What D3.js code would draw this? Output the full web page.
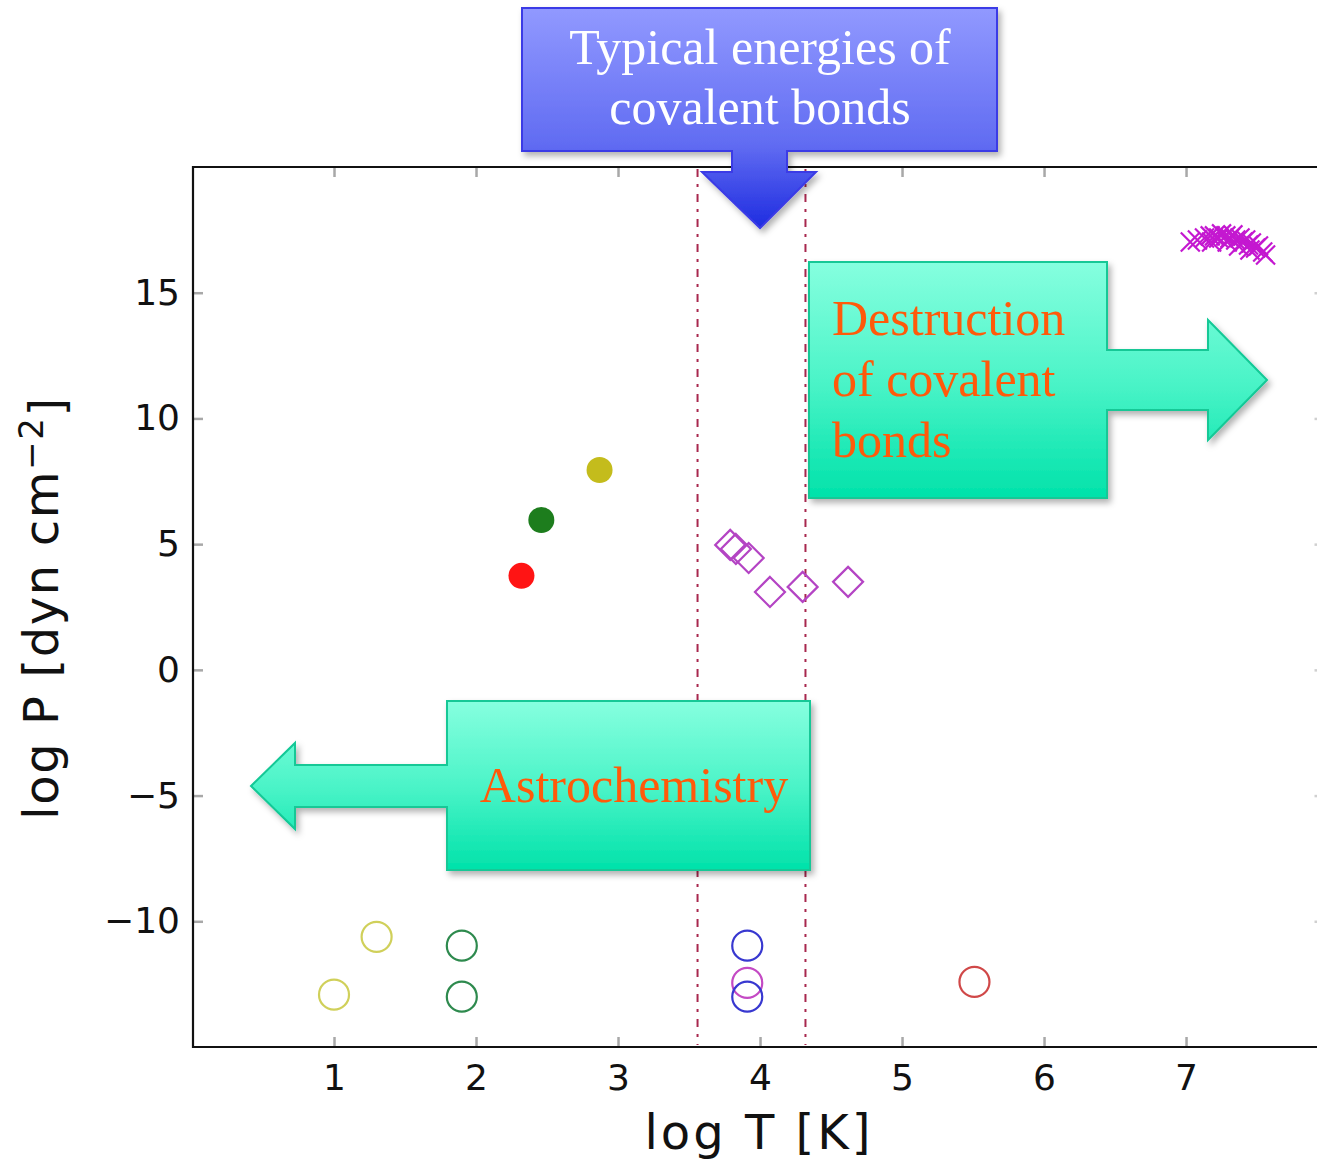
<!DOCTYPE html>
<html>
<head>
<meta charset="utf-8">
<script src="https://cdn.jsdelivr.net/npm/d3@7"></script>
<style>
  html, body { margin: 0; padding: 0; background: #fff; }
  svg { display: block; }
</style>
</head>
<body>
<svg id="chart" width="1317" height="1162"></svg>
<script>
// ---------- data ----------
const xTicks = [1, 2, 3, 4, 5, 6, 7];
const yTicks = [-10, -5, 0, 5, 10, 15];
const bondLines = [3.56, 4.32];

// filled circles
const filledT = [2.32, 2.46, 2.87];
const filledP = [3.74, 5.96, 7.95];
const filledGroup = ["red", "green", "olive"];

// open circles
const openT = [1.00, 1.30, 1.90, 1.90, 3.91, 3.91, 3.91, 5.51];
const openP = [-12.92, -10.62, -10.97, -13.00, -10.97, -12.45, -13.00, -12.41];
const openGroup = ["yellow", "yellow", "green", "green", "blue", "magenta", "blue", "red"];

// open diamonds
const diamondT = [3.79, 3.83, 3.92, 4.07, 4.30, 4.62];
const diamondP = [4.97, 4.81, 4.45, 3.10, 3.30, 3.50];

// crosses
const crossT = [7.03, 7.08, 7.13, 7.17, 7.20, 7.23, 7.25, 7.28, 7.31, 7.33, 7.35, 7.38,
                7.40, 7.42, 7.44, 7.46, 7.49, 7.51, 7.54, 7.56, 7.29, 7.37, 7.18, 7.45];
const crossP = [17.02, 17.10, 17.18, 17.26, 17.26, 17.18, 17.34, 17.26, 17.18, 17.30, 17.10, 17.18,
                17.02, 17.10, 16.90, 16.98, 16.78, 16.86, 16.62, 16.50, 17.02, 16.86, 17.02, 16.70];

const xLabel = "log T [K]";
const yLabelMain = "log P [dyn cm";
const yLabelSup = "\u22122";
const blueText = ["Typical energies of", "covalent bonds"];
const destText = ["Destruction", "of covalent", "bonds"];
const astroText = ["Astrochemistry"];

// ---------- styles ----------
const palette = {
  red: "#ff1414", green: "#1d7d1d", olive: "#c4bc1c",
  yellow: "#d2d25e", blue: "#3434cc", magenta: "#c046c0"
};
const openPalette = {
  yellow: "#d0d05a", green: "#2e8a4e", blue: "#3838d0", magenta: "#c44ac4", red: "#d04848"
};

// ---------- layout ----------
const svg = d3.select("#chart");
const L = 193, T = 167, B = 1047;
const x = d3.scaleLinear().domain([0, 7.975]).range([192, 1324.5]);
const y = d3.scaleLinear().domain([-15, 20]).range([B, T]);

const defs = svg.append("defs");
const f = defs.append("filter").attr("id", "shadow").attr("x", "-10%").attr("y", "-10%").attr("width", "130%").attr("height", "130%");
f.append("feDropShadow").attr("dx", 3).attr("dy", 4).attr("stdDeviation", 3)
  .attr("flood-color", "#000").attr("flood-opacity", 0.3);

function grad(id, stops) {
  const g = defs.append("linearGradient").attr("id", id).attr("x1", 0).attr("y1", 0).attr("x2", 0).attr("y2", 1);
  stops.forEach(s => g.append("stop").attr("offset", s[0]).attr("stop-color", s[1]));
}
grad("gBlue", [[0, "#9199ff"], [0.62, "#616cf2"], [1, "#1e2ce0"]]);
grad("gGreen", [[0, "#86ffdf"], [0.5, "#4cf4c8"], [1, "#00e2aa"]]);

const font = "'DejaVu Sans', Verdana, sans-serif";

// ---------- axes ----------
const xAxisB = d3.axisBottom(x).tickValues(xTicks).tickFormat(d3.format("d"))
  .tickSizeInner(-10).tickSizeOuter(0).tickPadding(17);
const gxb = svg.append("g").attr("transform", `translate(0,${B})`).call(xAxisB);

const xAxisT = d3.axisTop(x).tickValues(xTicks).tickFormat("").tickSizeInner(-10).tickSizeOuter(0);
const gxt = svg.append("g").attr("transform", `translate(0,${T})`).call(xAxisT);

const yAxisL = d3.axisLeft(y).tickValues(yTicks).tickFormat(d3.format("d"))
  .tickSizeInner(-10).tickSizeOuter(0).tickPadding(13);
const gyl = svg.append("g").attr("transform", `translate(${L},0)`).call(yAxisL);

const yAxisR = d3.axisRight(y).tickValues(yTicks).tickFormat("").tickSizeInner(-10).tickSizeOuter(0);
const gyr = svg.append("g").attr("transform", `translate(${x.range()[1]},0)`).call(yAxisR);

[gxb, gxt, gyl, gyr].forEach(g => {
  g.select(".domain").remove();
  g.selectAll(".tick line").attr("stroke", "#a8a8a8").attr("stroke-width", 2.5);
  g.selectAll(".tick text").attr("fill", "#111").style("font-family", font).style("font-size", "36px");
});
gyr.selectAll(".tick line").attr("stroke", "#d0d0d0");

// frame
svg.append("path")
  .attr("d", `M${x.range()[1]},${T}H${L}V${B}H${x.range()[1]}`)
  .attr("fill", "none").attr("stroke", "#111").attr("stroke-width", 2.2);

// axis labels
svg.append("text").attr("x", 759).attr("y", 1149).attr("text-anchor", "middle")
  .style("font-family", font).style("font-size", "48px").style("letter-spacing", "3px")
  .attr("fill", "#111").text(xLabel);

const yl = svg.append("text").attr("transform", "translate(58,608) rotate(-90)").attr("text-anchor", "middle")
  .style("font-family", font).style("font-size", "48px").style("letter-spacing", "1.6px").attr("fill", "#111");
yl.append("tspan").text(yLabelMain);
yl.append("tspan").attr("dy", "-0.45em").style("font-size", "34px").text(yLabelSup);
yl.append("tspan").attr("dy", "0.45em").text("]");

// bond lines
svg.selectAll(".bond").data(bondLines).enter().append("line")
  .attr("x1", d => x(d)).attr("x2", d => x(d)).attr("y1", T + 2).attr("y2", B - 2)
  .attr("stroke", "#a8284e").attr("stroke-width", 2).attr("stroke-dasharray", "8,7,3,7");

// ---------- marks ----------
const filled = filledT.map((t, i) => ({ t, p: filledP[i], g: filledGroup[i] }));
svg.selectAll(".fc").data(filled).enter().append("circle")
  .attr("cx", d => x(d.t)).attr("cy", d => y(d.p)).attr("r", 13)
  .attr("fill", d => palette[d.g]);

const open = openT.map((t, i) => ({ t, p: openP[i], g: openGroup[i] }));
svg.selectAll(".oc").data(open).enter().append("circle")
  .attr("cx", d => x(d.t)).attr("cy", d => y(d.p)).attr("r", 15)
  .attr("fill", "none").attr("stroke", d => openPalette[d.g]).attr("stroke-width", 2.2);

const diamonds = diamondT.map((t, i) => ({ t, p: diamondP[i] }));
const ds = 15;
svg.selectAll(".dm").data(diamonds).enter().append("path")
  .attr("d", d => { const cx = x(d.t), cy = y(d.p); return `M${cx},${cy - ds}L${cx + ds},${cy}L${cx},${cy + ds}L${cx - ds},${cy}Z`; })
  .attr("fill", "none").attr("stroke", "#b444c4").attr("stroke-width", 2.2);

const crosses = crossT.map((t, i) => ({ t, p: crossP[i] }));
const cs = 9.5;
svg.selectAll(".cr").data(crosses).enter().append("path")
  .attr("d", d => { const cx = x(d.t), cy = y(d.p); return `M${cx - cs},${cy - cs}L${cx + cs},${cy + cs}M${cx - cs},${cy + cs}L${cx + cs},${cy - cs}`; })
  .attr("stroke", "#c418d0").attr("stroke-width", 2.2);

// ---------- annotations ----------
const serif = "'Liberation Serif', 'Times New Roman', serif";

svg.append("path")
  .attr("d", "M522,8H997V151H787V172H816L760,228L702,172H732V151H522Z")
  .attr("fill", "url(#gBlue)").attr("stroke", "#3a3ae6").attr("stroke-width", 2).attr("filter", "url(#shadow)");
svg.selectAll(".bt").data(blueText).enter().append("text")
  .attr("x", 760).attr("y", (d, i) => 64 + i * 60).attr("text-anchor", "middle")
  .style("font-family", serif).style("font-size", "50px").attr("fill", "#fff").text(d => d);

svg.append("path")
  .attr("d", "M809,262H1107V350H1208V320L1267,380L1208,440V410H1107V498H809Z")
  .attr("fill", "url(#gGreen)").attr("stroke", "#12c896").attr("stroke-width", 2).attr("filter", "url(#shadow)");
svg.selectAll(".dt").data(destText).enter().append("text")
  .attr("x", 832).attr("y", (d, i) => 335 + i * 61)
  .style("font-family", serif).style("font-size", "50px").attr("fill", "#ff5a0a").text(d => d);

svg.append("path")
  .attr("d", "M447,701H810V870H447V807H295V829L251,786L295,743V765H447Z")
  .attr("fill", "url(#gGreen)").attr("stroke", "#12c896").attr("stroke-width", 2).attr("filter", "url(#shadow)");
svg.selectAll(".at").data(astroText).enter().append("text")
  .attr("x", 634).attr("y", 802).attr("text-anchor", "middle")
  .style("font-family", serif).style("font-size", "50px").attr("fill", "#ff5a0a").text(d => d);
</script>
</body>
</html>
